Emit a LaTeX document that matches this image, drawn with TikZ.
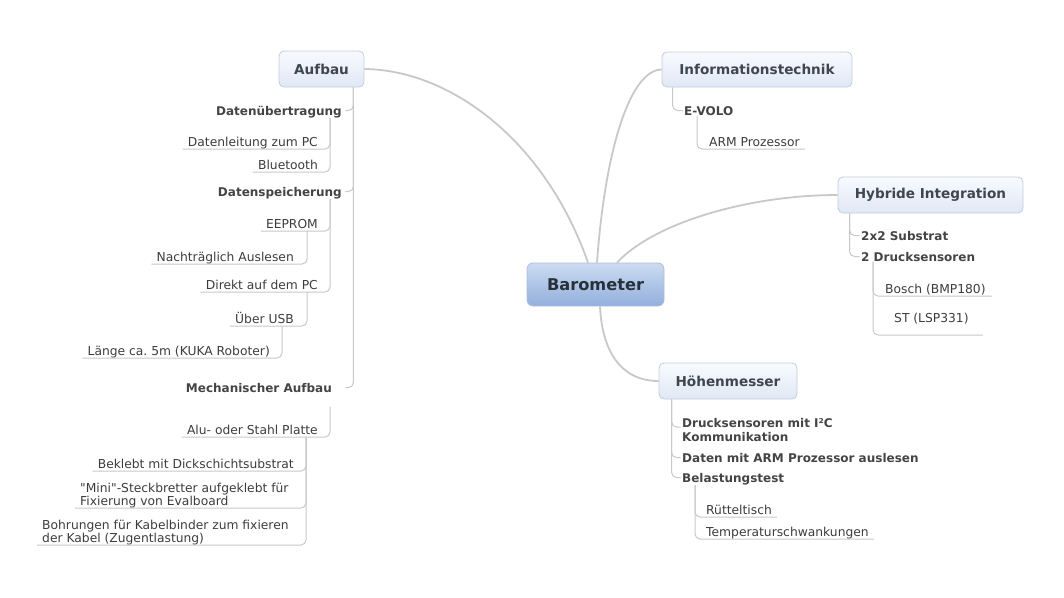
\documentclass[tikz,border=0pt]{standalone}
\usepackage{fontspec}
\setmainfont{DejaVu Sans}
\newfontfamily\plainqfont{DejaVu Sans}
\usetikzlibrary{calc}
\frenchspacing
\definecolor{conn}{HTML}{C8C8C8}
\definecolor{txt}{HTML}{3C3C3C}
\definecolor{subtxt}{HTML}{444444}
\definecolor{topicb}{HTML}{C3CCD9}
\definecolor{topict}{HTML}{F8FAFE}
\definecolor{topicbot}{HTML}{E0E8F6}
\definecolor{topictxt}{HTML}{3E4650}
\definecolor{centb}{HTML}{AEBFD9}
\definecolor{centt}{HTML}{CCDBF1}
\definecolor{centbot}{HTML}{92AFDB}
\definecolor{centtxt}{HTML}{28303A}
\tikzset{
  conn/.style={draw=conn, line width=1pt, rounded corners=5pt},
  mainconn/.style={draw=conn, line width=1.8pt},
  leaf/.style={inner sep=0pt, text=txt, font=\fontsize{12.3}{13}\selectfont},
  subnode/.style={inner sep=0pt, text=subtxt, font=\bfseries\fontsize{12}{14}\selectfont},
  topic/.style={draw=topicb, line width=0.8pt, rounded corners=5pt, top color=topict, bottom color=topicbot,
    text=topictxt, font=\bfseries\fontsize{13.6}{16}\selectfont, inner sep=0pt, minimum height=36pt},
  central/.style={draw=centb, line width=0.8pt, rounded corners=6pt, top color=centt, bottom color=centbot,
    text=centtxt, font=\bfseries\fontsize{16.2}{19}\selectfont, inner sep=0pt, minimum height=43pt, minimum width=137pt}
}
\begin{document}
\begin{tikzpicture}[x=1pt,y=-1pt]
\useasboundingbox (0,0) rectangle (1064,597);

% ---------- main nodes ----------
\node[central] (baro) at (595.5,284.5) {Barometer};
\node[topic, minimum width=85pt] (aufbau) at (321.5,69) {Aufbau};
\node[topic, minimum width=190pt, minimum height=35pt] (info) at (757,69.5) {Informationstechnik};
\node[topic, minimum width=185pt] (hy) at (930.5,195) {Hybride Integration};
\node[topic, minimum width=138pt] (ho) at (728,381) {Höhenmesser};

\draw[mainconn] ([xshift=-7.5pt]baro.north) .. controls (545,140) and (450,70) .. (aufbau.east);
\draw[mainconn] ([xshift=1.5pt]baro.north) .. controls (605,150) and (630,70) .. (info.west);
\draw[mainconn] ([xshift=21.5pt]baro.north) .. controls (655,222) and (750,195) .. (hy.west);
\draw[mainconn] ([xshift=4.5pt]baro.south) .. controls (602,350) and (620,381) .. (ho.west);

% ---------- Aufbau subtree ----------
\coordinate (aV) at ([xshift=-11pt]aufbau.south east);
\node[subnode, anchor=mid east] (du) at (342,112.5) {Datenübertragung};
\node[subnode, anchor=mid east] (ds) at (342,193.5) {Datenspeicherung};
\node[subnode, anchor=mid east] (ma) at (332,389.5) {Mechanischer Aufbau};
\draw[conn] (aV) |- ($(aV |- du.mid east)+(-8,-2)$);
\draw[conn] (aV) |- ($(aV |- ds.mid east)+(-8,-2)$);
\draw[conn] (aV) |- ($(aV |- ma.mid east)+(-8,-2)$);

\coordinate (duV) at ([xshift=-12pt]du.south east);
\node[leaf, anchor=base east] (dl) at (318,146.5) {Datenleitung zum PC};
\node[leaf, anchor=base east] (bt) at (318,169.5) {Bluetooth};
\draw[conn] (duV) |- ([shift={(-5pt,-2.5pt)}]dl.base west);
\draw[conn] (duV) |- ([shift={(-5pt,-2.5pt)}]bt.base west);

\coordinate (dsV) at ([xshift=-12pt]ds.south east);
\node[leaf, anchor=base east] (ee) at (318,228.5) {EEPROM};
\node[leaf, anchor=base east] (dp) at (318,289.5) {Direkt auf dem PC};
\draw[conn] (dsV) |- ([shift={(-5pt,-2.5pt)}]ee.base west);
\draw[conn] (dsV) |- ([shift={(-5pt,-2.5pt)}]dp.base west);

\coordinate (eeV) at ([shift={(-11pt,-2.5pt)}]ee.base east);
\node[leaf, anchor=base east] (na) at (294,261.5) {Nachträglich Auslesen};
\draw[conn] (eeV) |- ([shift={(-5pt,-2.5pt)}]na.base west);

\coordinate (dpV) at ([shift={(-11pt,-2.5pt)}]dp.base east);
\node[leaf, anchor=base east] (usb) at (294,323.5) {Über USB};
\draw[conn] (dpV) |- ([shift={(-5pt,-2.5pt)}]usb.base west);

\coordinate (usbV) at ([shift={(-12pt,-2.5pt)}]usb.base east);
\node[leaf, anchor=base east] (la) at (270,355.5) {Länge ca.\ 5m (KUKA Roboter)};
\draw[conn] (usbV) |- ([shift={(-5pt,-2.5pt)}]la.base west);

\coordinate (maV) at ([shift={(-2pt,-14pt)}]ma.south east);
\node[leaf, anchor=base east] (alu) at (318,434.5) {Alu- oder Stahl Platte};
\draw[conn] (maV) |- ([shift={(-5pt,-2.5pt)}]alu.base west);

\coordinate (aluV) at ([shift={(-12pt,-2.5pt)}]alu.base east);
\node[leaf, anchor=base east] (bk) at (294,468.5) {Beklebt mit Dickschichtsubstrat};
\node[leaf, anchor=base west] (mini) at (80,505.5) {\begin{tabular}[b]{@{}l@{}}{\plainqfont"}Mini{\plainqfont"}-Steckbretter aufgeklebt für\\Fixierung von Evalboard\end{tabular}};
\node[leaf, anchor=base west] (bo) at (42,542.5) {\begin{tabular}[b]{@{}l@{}}Bohrungen für Kabelbinder zum fixieren\\der Kabel (Zugentlastung)\end{tabular}};
\draw[conn] (aluV) |- ([shift={(-5pt,-2.5pt)}]bk.base west);
\draw[conn] (aluV) |- ([shift={(-5pt,-2.5pt)}]mini.base west);
\draw[conn] (aluV) |- ([shift={(-5pt,-2.5pt)}]bo.base west);

% ---------- Informationstechnik subtree ----------
\coordinate (iV) at ([xshift=11pt]info.south west);
\node[subnode, anchor=mid west] (ev) at (684,112.5) {E-VOLO};
\draw[conn] (iV) |- ($(iV |- ev.mid west)+(10,-2)$);
\coordinate (evV) at ([xshift=13pt]ev.south west);
\node[leaf, anchor=base west] (arm) at (709,146.5) {ARM Prozessor};
\draw[conn] (evV) |- ([shift={(5pt,-2.5pt)}]arm.base east);

% ---------- Hybride Integration subtree ----------
\coordinate (hV) at ([xshift=12pt]hy.south west);
\node[subnode, anchor=mid west] (sub) at (861,237.5) {2x2 Substrat};
\node[subnode, anchor=mid west] (dsr) at (861,258.5) {2 Drucksensoren};
\draw[conn] (hV) |- ($(hV |- sub.mid west)+(10,-2)$);
\draw[conn] (hV) |- ($(hV |- dsr.mid west)+(10,-2)$);
\coordinate (dsrV) at ([xshift=12pt]dsr.south west);
\node[leaf, anchor=base west] (bosch) at (885,293.5) {Bosch (BMP180)};
\node[leaf, anchor=base west] (st) at (894,322.5) {ST (LSP331)};
\draw[conn] (dsrV) |- ([shift={(6pt,-2.5pt)}]bosch.base east);
\draw[conn] (dsrV) |- ([shift={(14pt,-12.5pt)}]st.base east);

% ---------- Hoehenmesser subtree ----------
\coordinate (hoV) at ([xshift=13pt]ho.south west);
\node[subnode, anchor=base west] (dr) at (682,427) {\begin{tabular}[t]{@{}l@{}}Drucksensoren mit I²C\\Kommunikation\end{tabular}};
\node[subnode, anchor=mid west] (da) at (682,459.5) {Daten mit ARM Prozessor auslesen};
\node[subnode, anchor=mid west] (bl) at (682,479.5) {Belastungstest};
\draw[conn] (hoV) |- ($(hoV |- dr.base west)+(9,0)$);
\draw[conn] (hoV) |- ($(hoV |- da.mid west)+(9,-2)$);
\draw[conn] (hoV) |- ($(hoV |- bl.mid west)+(9,-2)$);
\coordinate (blV) at ([xshift=13pt]bl.south west);
\node[leaf, anchor=base west] (rt) at (706,514.5) {Rütteltisch};
\node[leaf, anchor=base west] (ts) at (706,536.5) {Temperaturschwankungen};
\draw[conn] (blV) |- ([shift={(5pt,-2.5pt)}]rt.base east);
\draw[conn] (blV) |- ([shift={(5pt,-2.5pt)}]ts.base east);
\end{tikzpicture}
\end{document}
